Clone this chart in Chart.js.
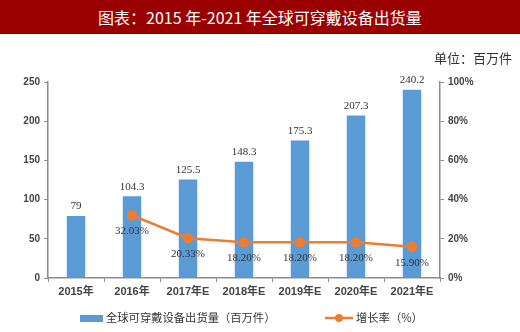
<!DOCTYPE html>
<html>
<head>
<meta charset="utf-8">
<script src="https://cdn.jsdelivr.net/npm/chart.js@4"></script>
<style>
  body { margin: 0; background: #fff; }
  #wrap { position: relative; width: 520px; height: 332px; overflow: hidden; }
  #titre {
    position: absolute; left: 0; top: 0; width: 520px; height: 34px;
    background: #9b0000; color: #fff; text-align: center;
    font: 16px "Noto Sans CJK SC", sans-serif; line-height: 34px;
  }
  #unite {
    position: absolute; right: 8px; top: 48px;
    font: 13px "Noto Sans CJK SC", sans-serif; color: #333;
  }
  #graph { position: absolute; left: 0; top: 0; }
</style>
</head>
<body>
<div id="wrap">
  <canvas id="graph" width="520" height="332"></canvas>
  <div id="titre">图表：2015 年-2021 年全球可穿戴设备出货量</div>
  <div id="unite">单位：百万件</div>
</div>
<script>
const annees = ["2015年", "2016年", "2017年E", "2018年E", "2019年E", "2020年E", "2021年E"];
const expeditions = [79, 104.3, 125.5, 148.3, 175.3, 207.3, 240.2];
const croissance = [null, 32.03, 20.33, 18.20, 18.20, 18.20, 15.90];
const labelsCroissance = ["", "32.03%", "20.33%", "18.20%", "18.20%", "18.20%", "15.90%"];
const ticksGauche = [0, 50, 100, 150, 200, 250];
const ticksDroite = [0, 20, 40, 60, 80, 100];

const bleu = "#5b9bd5";
const orange = "#ed7d31";
const gris = "#8c8c8c";

// etiquettes des valeurs + legende maison
const etiquettes = {
  id: "etiquettes",
  afterDatasetsDraw(chart) {
    const ctx = chart.ctx;
    ctx.save();
    ctx.font = "11px 'Liberation Serif', serif";
    ctx.fillStyle = "#333";
    ctx.textAlign = "center";
    chart.getDatasetMeta(0).data.forEach((bar, i) => {
      ctx.textBaseline = "bottom";
      ctx.fillText(String(expeditions[i]), bar.x, bar.y - 4);
    });
    chart.getDatasetMeta(1).data.forEach((pt, i) => {
      if (croissance[i] == null) return;
      ctx.textBaseline = "middle";
      ctx.fillText(labelsCroissance[i], pt.x, pt.y + 16);
    });
    ctx.restore();
  },
  afterDraw(chart) {
    const ctx = chart.ctx;
    const y = 318;
    ctx.save();
    ctx.fillStyle = bleu;
    ctx.fillRect(80, y - 3, 23, 7);
    ctx.strokeStyle = orange;
    ctx.lineWidth = 2.5;
    ctx.beginPath();
    ctx.moveTo(325, y);
    ctx.lineTo(353, y);
    ctx.stroke();
    ctx.fillStyle = orange;
    ctx.beginPath();
    ctx.arc(339, y, 4, 0, Math.PI * 2);
    ctx.fill();
    ctx.fillStyle = "#333";
    ctx.font = "11.3px 'Noto Sans CJK SC', sans-serif";
    ctx.textBaseline = "middle";
    ctx.textAlign = "left";
    ctx.fillText(chart.data.datasets[0].label, 106, y);
    ctx.fillText(chart.data.datasets[1].label, 356, y);
    ctx.restore();
  }
};

new Chart(document.getElementById("graph"), {
  type: "bar",
  data: {
    labels: annees,
    datasets: [
      {
        type: "bar",
        label: "全球可穿戴设备出货量（百万件）",
        data: expeditions,
        backgroundColor: bleu,
        yAxisID: "y",
        categoryPercentage: 1,
        barPercentage: 0.33,
        order: 2
      },
      {
        type: "line",
        label: "增长率（%）",
        data: croissance,
        borderColor: orange,
        backgroundColor: orange,
        borderWidth: 2.5,
        pointRadius: 4,
        pointHoverRadius: 4,
        tension: 0,
        yAxisID: "y1",
        order: 1
      }
    ]
  },
  plugins: [etiquettes],
  options: {
    responsive: false,
    animation: false,
    layout: { padding: { top: 82, bottom: 30, left: 0, right: 0 } },
    plugins: {
      legend: { display: false },
      tooltip: { enabled: false }
    },
    scales: {
      x: {
        grid: { drawOnChartArea: false, offset: true, color: gris, tickLength: 4 },
        border: { color: gris, width: 1.5 },
        ticks: { color: "#444", font: { size: 11, weight: "bold", family: "'Liberation Sans', 'Noto Sans CJK SC', sans-serif" }, padding: 3, maxRotation: 0 },
        afterFit(s) { s.height = 24; }
      },
      y: {
        position: "left",
        min: 0, max: 250,
        afterBuildTicks(s) { s.ticks = ticksGauche.map(v => ({ value: v })); },
        grid: { drawOnChartArea: false, color: gris, tickLength: 4 },
        border: { color: gris, width: 1.5 },
        ticks: { color: "#444", font: { size: 10, weight: "bold", family: "'Liberation Sans', sans-serif" }, padding: 4 },
        afterFit(s) { s.width = 48; }
      },
      y1: {
        position: "right",
        min: 0, max: 100,
        afterBuildTicks(s) { s.ticks = ticksDroite.map(v => ({ value: v })); },
        grid: { drawOnChartArea: false, color: gris, tickLength: 4 },
        border: { color: gris, width: 1.5 },
        ticks: { color: "#444", font: { size: 10, weight: "bold", family: "'Liberation Sans', sans-serif" }, padding: 4, callback: v => v + "%" },
        afterFit(s) { s.width = 80; }
      }
    }
  }
});
</script>
</body>
</html>
